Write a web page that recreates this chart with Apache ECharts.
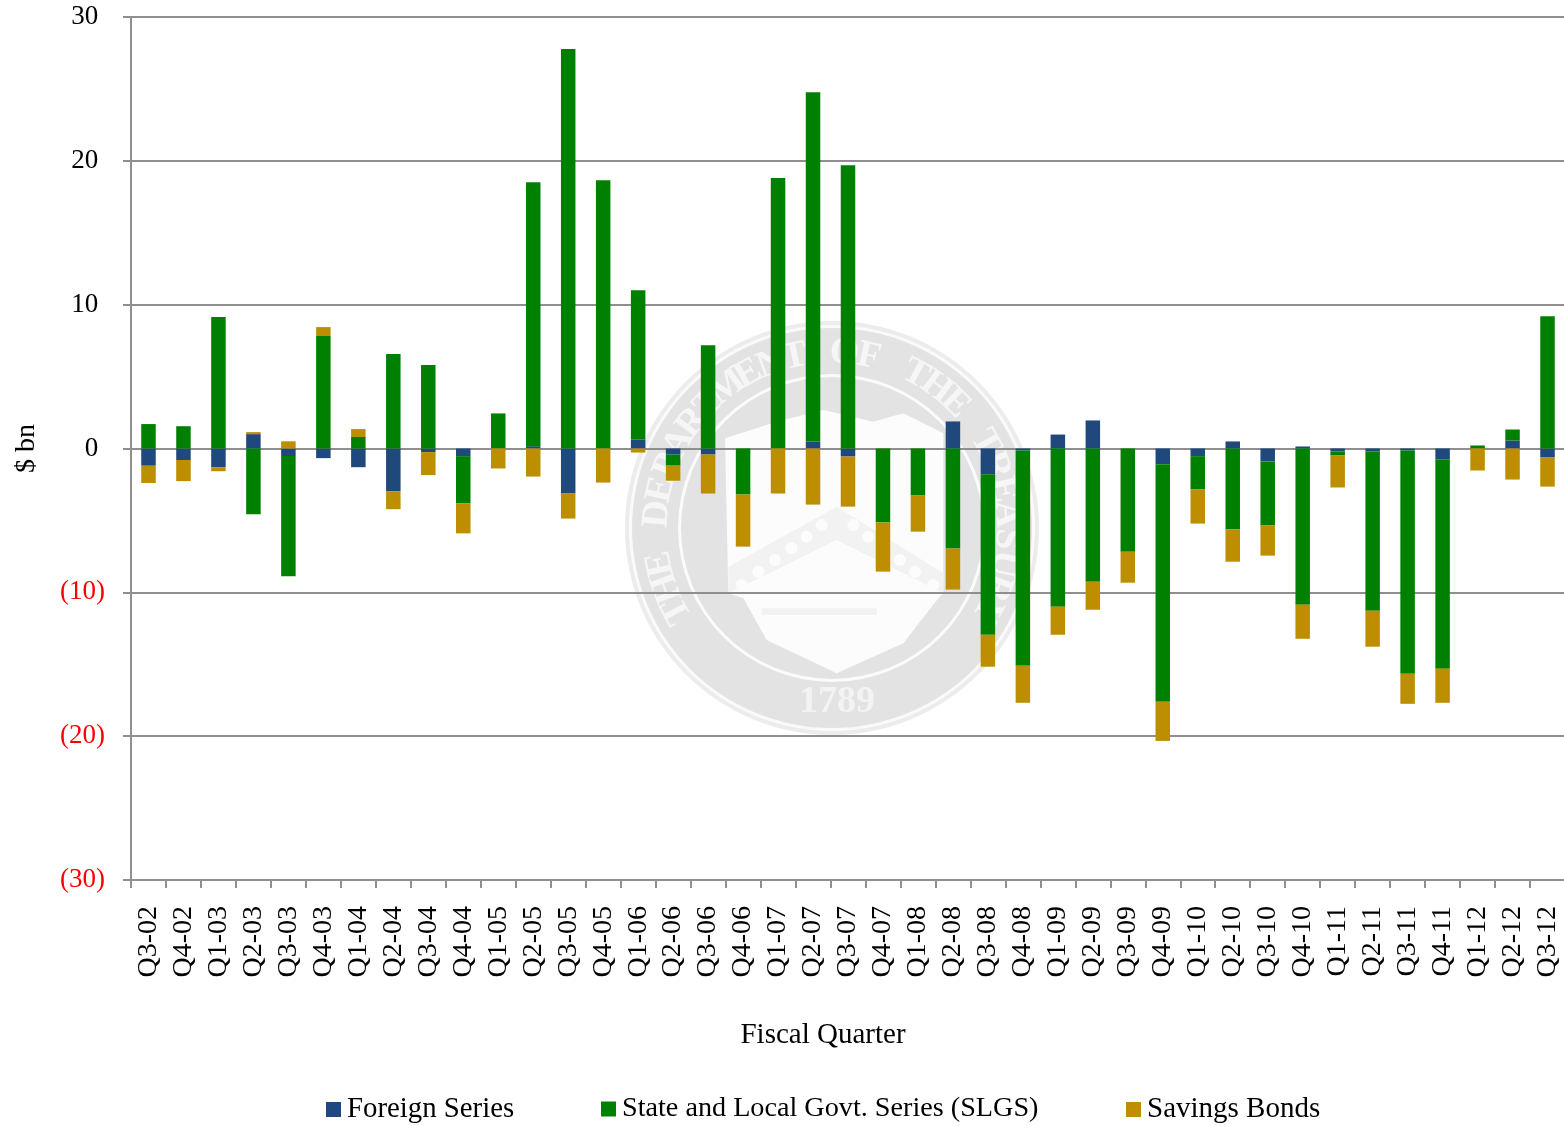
<!DOCTYPE html>
<html>
<head>
<meta charset="utf-8">
<script src="https://cdn.jsdelivr.net/npm/echarts@6/dist/echarts.min.js"></script>
<style>html,body{margin:0;padding:0;background:#fff}#c{width:1564px;height:1126px}</style>
</head>
<body>
<div id="c"></div>
<script>
var categories = ['Q3-02','Q4-02','Q1-03','Q2-03','Q3-03','Q4-03','Q1-04','Q2-04','Q3-04','Q4-04','Q1-05','Q2-05','Q3-05','Q4-05','Q1-06','Q2-06','Q3-06','Q4-06','Q1-07','Q2-07','Q3-07','Q4-07','Q1-08','Q2-08','Q3-08','Q4-08','Q1-09','Q2-09','Q3-09','Q4-09','Q1-10','Q2-10','Q3-10','Q4-10','Q1-11','Q2-11','Q3-11','Q4-11','Q1-12','Q2-12','Q3-12'];
var foreignSeries = [-1.2,-0.8,-1.3,1.0,-0.53,-0.67,-1.3,-2.97,-0.25,-0.53,0,0.16,-3.13,0,0.63,-0.42,-0.42,0,0,0.49,-0.56,0,0,1.88,-1.79,-0.14,0.97,1.95,0,-1.09,-0.53,0.49,-0.9,0.14,-0.21,-0.21,-0.14,-0.77,0,0.56,-0.63];
var slgsSeries = [1.7,1.55,9.14,-4.57,-8.35,7.82,0.8,6.57,5.8,-3.27,2.44,18.35,27.77,18.65,10.37,-0.77,7.17,-3.2,18.8,24.28,19.7,-5.15,-3.27,-6.96,-11.16,-14.96,-11.0,-9.26,-7.17,-16.52,-2.32,-5.64,-4.46,-10.86,-0.28,-11.07,-15.52,-14.54,0.21,0.76,9.19];
var savingsBonds = [-1.2,-1.47,-0.28,0.14,0.5,0.62,0.55,-1.25,-1.6,-2.1,-1.39,-1.95,-1.74,-2.37,-0.28,-1.05,-2.71,-3.62,-3.13,-3.9,-3.48,-3.41,-2.51,-2.85,-2.22,-2.58,-1.95,-1.95,-2.16,-2.72,-2.37,-2.23,-2.09,-2.37,-2.22,-2.5,-2.09,-2.37,-1.53,-2.16,-2.02];
var yTickLabels = ['(30)','(20)','(10)','0\u00a0','10\u00a0','20\u00a0','30\u00a0'];
var seriesNames = ['Foreign Series','State and Local Govt. Series (SLGS)','Savings Bonds'];
var sealWords = 'THE DEPARTMENT OF THE TREASURY';

var serif = '"Liberation Serif","Times New Roman",serif';

// Faint seal watermark behind the chart
var cx = 832, cy = 528;
function zx(v){ return 610 + v/3; }
function zy(v){ return 310 + v/3; }
function z3(pts){ return pts.map(function(p){ return [zx(p[0]), zy(p[1])]; }); }
var seal = [
  {type:'circle', z:-10, silent:true, shape:{cx:cx,cy:cy,r:207}, style:{fill:'#ececec'}},
  {type:'circle', z:-9, silent:true, shape:{cx:cx,cy:cy,r:203}, style:{fill:'#fafafa'}},
  {type:'circle', z:-8, silent:true, shape:{cx:cx,cy:cy,r:200}, style:{fill:'#e3e3e3'}},
  {type:'circle', z:-7, silent:true, shape:{cx:cx,cy:cy,r:154}, style:{fill:'#fbfbfb'}},
  {type:'circle', z:-6, silent:true, shape:{cx:cx,cy:cy,r:151}, style:{fill:'#e3e3e3'}},
  {type:'polygon', z:-5, silent:true, shape:{points:z3([[345,385],[500,335],[640,300],[790,335],[880,310],[1000,370],[1000,850],[985,865],[880,1000],[680,1090],[470,990],[400,865],[355,850]])}, style:{fill:'#fcfcfc'}},
  {type:'polygon', z:-4, silent:true, shape:{points:z3([[680,590],[1000,790],[1000,850],[680,690],[355,850],[355,770]])}, style:{fill:'#f2f2f2'}},
  {type:'polygon', z:-4, silent:true, shape:{points:z3([[455,895],[800,895],[800,915],[455,915]])}, style:{fill:'#f2f2f2'}},
  {type:'text', z:-3, silent:true, style:{x:837,y:702,text:'1789',fill:'#f3f3f3',font:'bold 38px '+serif,textAlign:'center',textVerticalAlign:'middle'}}
];
[[395,825],[445,785],[495,750],[545,715],[590,680],[635,645],[730,645],[775,680],[870,750],[915,785],[970,825]].forEach(function(p){
  seal.push({type:'circle', z:-3, silent:true, shape:{cx:zx(p[0]),cy:zy(p[1]),r:6}, style:{fill:'#fcfcfc'}});
});
(function(){
  var n = sealWords.length, a0 = -118, a1 = 118, R = 175;
  for (var i = 0; i < n; i++) {
    var ch = sealWords.charAt(i);
    if (ch === ' ') continue;
    var deg = a0 + (a1 - a0) * i / (n - 1), rad = deg * Math.PI / 180;
    seal.push({type:'text', z:-3, silent:true,
      x: cx + R * Math.sin(rad), y: cy - R * Math.cos(rad), rotation: -rad,
      style:{x:0,y:0,text:ch,fill:'#f6f6f6',font:'bold 38px '+serif,textAlign:'center',textVerticalAlign:'middle'}});
  }
})();

var gridLine = '#8f8f8f';
var chart = echarts.init(document.getElementById('c'), null, {renderer:'canvas'});
function bar(name, data, color){
  return {name:name, type:'bar', stack:'all', data:data, barWidth:14.5, itemStyle:{color:color}};
}
function leg(name, left, size){
  return {show:true, data:[name], left:left, top:1095, itemWidth:15, itemHeight:15, itemGap:0,
    icon:'rect', padding:0, selectedMode:false,
    textStyle:{fontFamily:serif, fontSize:size, color:'#000', padding:[0,0,0,1]}};
}
chart.setOption({
  animation:false,
  backgroundColor:'#fff',
  graphic:{elements:seal},
  grid:{left:131, top:17, width:1434, height:863, containLabel:false, outerBoundsMode:'none'},
  legend:[leg(seriesNames[0],326,28.8), leg(seriesNames[1],601,28.2), leg(seriesNames[2],1126,29)],
  xAxis:{
    type:'category', data:categories, position:'bottom',
    name:'Fiscal Quarter', nameLocation:'middle', nameGap:141,
    nameTextStyle:{fontFamily:serif, fontSize:29, color:'#000', padding:[0,50,0,0]},
    axisLine:{onZero:false, lineStyle:{color:gridLine, width:2}},
    axisTick:{show:true, length:8, alignWithLabel:false, lineStyle:{color:gridLine, width:2}},
    axisLabel:{interval:0, rotate:90, margin:26, fontFamily:serif, fontSize:28, color:'#000'},
    splitLine:{show:false}
  },
  yAxis:{
    type:'value', min:-30, max:30, interval:10,
    name:'$ bn', nameLocation:'middle', nameGap:90, nameRotate:90,
    nameTextStyle:{fontFamily:serif, fontSize:28, color:'#000'},
    axisLine:{show:true, lineStyle:{color:gridLine, width:2}},
    axisTick:{show:true, length:8, lineStyle:{color:gridLine, width:2}},
    axisLabel:{margin:26, fontFamily:serif, fontSize:27, padding:[2,0,0,0],
      color:function(v){ return v < 0 ? '#ff0000' : '#000'; },
      formatter:function(v,i){ return yTickLabels[i]; }},
    splitLine:{show:true, lineStyle:{color:gridLine, width:2}}
  },
  series:[
    bar(seriesNames[0], foreignSeries, '#1f497d'),
    bar(seriesNames[1], slgsSeries, '#008000'),
    bar(seriesNames[2], savingsBonds, '#bc8e00')
  ]
});
</script>
</body>
</html>
